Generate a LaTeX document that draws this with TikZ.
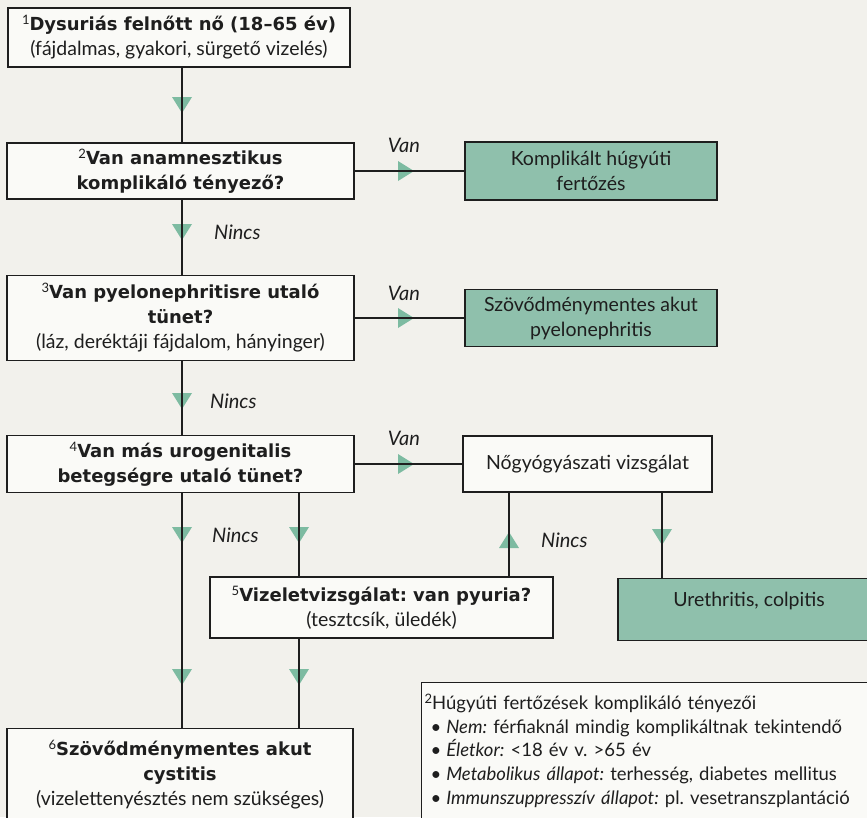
\documentclass[tikz,border=0pt]{standalone}
\usepackage{fontspec}
\setmainfont{Lato}[BoldFont={DejaVu Sans Bold}]
\definecolor{bg}{HTML}{F2F1EC}
\definecolor{boxwhite}{HTML}{FAFAF7}
\definecolor{boxfill}{HTML}{8FC0AC}
\definecolor{trifill}{HTML}{7DBBA1}
\definecolor{ink}{HTML}{1E1E1E}
\newcommand{\nsup}[1]{\raisebox{0.62ex}{\fontseries{m}\fontsize{13}{13}\selectfont #1}}
\newcommand{\bt}[1]{{\fontsize{18}{25}\selectfont\bfseries #1}}
\frenchspacing
\begin{document}
\frenchspacing
\begin{tikzpicture}[x=1pt,y=-1pt,
  base/.style={rectangle, draw=ink, line width=1.1pt, align=center, inner sep=0pt,
    font=\fontsize{19.5}{25}\selectfont\frenchspacing, text=ink},
  wbox/.style={base, fill=boxwhite},
  gbox/.style={base, fill=boxfill},
  conn/.style={draw=ink, line width=1.3pt},
  lbl/.style={font=\fontsize{20}{22}\selectfont\itshape, text=ink, inner sep=0pt},
  tridown/.pic={\fill[trifill] (-10,-8) -- (10,-8) -- (0,8) -- cycle;},
  triup/.pic={\fill[trifill] (-10,8) -- (10,8) -- (0,-8) -- cycle;},
  triright/.pic={\fill[trifill] (-8,-10) -- (-8,10) -- (8,0) -- cycle;}
]
\useasboundingbox (0,0) rectangle (867,817);
\fill[bg] (0,0) rectangle (867,817);
\clip (0,0) rectangle (867,817);

% columns of the vertical connectors
\coordinate (cx) at (182,0);
\coordinate (cxb) at (299,0);
\coordinate (cxc) at (509,0);
\coordinate (cxd) at (662,0);

% left column boxes
\node[wbox, minimum width=342pt, minimum height=59pt] (b1) at (179,37.5)
  {\nsup{1}\bt{Dysuriás felnőtt nő (18–65 év)}\\(fájdalmas, gyakori, sürgető vizelés)};
\node[wbox, minimum width=347pt, minimum height=56pt] (b2) at (180.5,171)
  {\nsup{2}\bt{Van anamnesztikus}\\\bt{komplikáló tényező?}};
\node[wbox, minimum width=347pt, minimum height=85pt] (b3) at (180.5,318)
  {\nsup{3}\bt{Van pyelonephritisre utaló}\\\bt{tünet?}\\(láz, deréktáji fájdalom, hányinger)};
\node[wbox, minimum width=347pt, minimum height=57pt] (b4) at (180.5,464)
  {\nsup{4}\bt{Van más urogenitalis}\\\bt{betegségre utaló tünet?}};
\node[wbox, minimum width=343pt, minimum height=61pt] (b5) at (381.5,607.5)
  {\nsup{5}\bt{Vizeletvizsgálat: van pyuria?}\\(tesztcsík, üledék)};
\node[wbox, minimum width=346pt, anchor=north, text height=77pt, text depth=30pt] (b6) at (180,728)
  {\nsup{6}\bt{Szövődménymentes akut}\\\bt{cystitis}\\(vizelettenyésztés nem szükséges)};

% right column boxes
\node[gbox, minimum width=252pt, minimum height=58pt] (komp) at (591,171)
  {Komplikált húgyúti\\fertőzés};
\node[gbox, minimum width=252pt, minimum height=57pt] (pyel) at (591,318)
  {Szövődménymentes akut\\pyelonephritis};
\node[wbox, minimum width=249pt, minimum height=56pt] (noi) at (587.5,464)
  {Nőgyógyászati vizsgálat};
\node[gbox, minimum width=262pt, anchor=north, text height=28pt, text depth=34pt] (ure) at (749,578)
  {Urethritis, colpitis};

% legend
\node[wbox, anchor=north west, align=left, inner xsep=3pt, inner ysep=0pt, text width=470pt,
  text height=27pt, text depth=140pt, font=\fontsize{18.5}{23.7}\selectfont\frenchspacing] (leg) at (421,682)
  {\nsup{2}Húgyúti fertőzések komplikáló tényezői\\
   \hspace*{6pt}•\hspace{5pt}\textit{Nem:} férfiaknál mindig komplikáltnak tekintendő\\
   \hspace*{6pt}•\hspace{5pt}\textit{Életkor:} <18 év v. >65 év\\
   \hspace*{6pt}•\hspace{5pt}\textit{Metabolikus állapot:} terhesség, diabetes mellitus\\
   \hspace*{6pt}•\hspace{5pt}\textit{Immunszuppresszív állapot:} pl. vesetranszplantáció};

% triangles (drawn under the connectors)
\pic at (182,105) {tridown};
\pic at (182,232) {tridown};
\pic at (182,401) {tridown};
\pic at (182,535) {tridown};
\pic at (299,535) {tridown};
\pic at (182,677) {tridown};
\pic at (299,677) {tridown};
\pic at (662,537) {tridown};
\pic at (509,540) {triup};
\pic at (406,171) {triright};
\pic at (406,318) {triright};
\pic at (406,464) {triright};

% connectors
\draw[conn] (b1.south -| cx) -- (b2.north -| cx);
\draw[conn] (b2.south -| cx) -- (b3.north -| cx);
\draw[conn] (b3.south -| cx) -- (b4.north -| cx);
\draw[conn] (b4.south -| cx) -- (b6.north -| cx);
\draw[conn] (b4.south -| cxb) -- (b5.north -| cxb);
\draw[conn] (b5.south -| cxb) -- (b6.north -| cxb);
\draw[conn] (b5.north -| cxc) -- (noi.south -| cxc);
\draw[conn] (noi.south -| cxd) -- (ure.north -| cxd);
\draw[conn] (b2.east) -- (komp.west);
\draw[conn] (b3.east) -- (pyel.west);
\draw[conn] (b4.east) -- (noi.west);

% labels
\node[lbl] (van1) at (404,145) {Van};
\node[lbl] (van2) at (404,293) {Van};
\node[lbl] (van3) at (404,438) {Van};
\node[lbl, anchor=west] (nin1) at (214,232) {Nincs};
\node[lbl, anchor=west] (nin2) at (210,401) {Nincs};
\node[lbl, anchor=west] (nin3) at (212,535) {Nincs};
\node[lbl, anchor=west] (nin4) at (541,540) {Nincs};
\end{tikzpicture}
\end{document}
